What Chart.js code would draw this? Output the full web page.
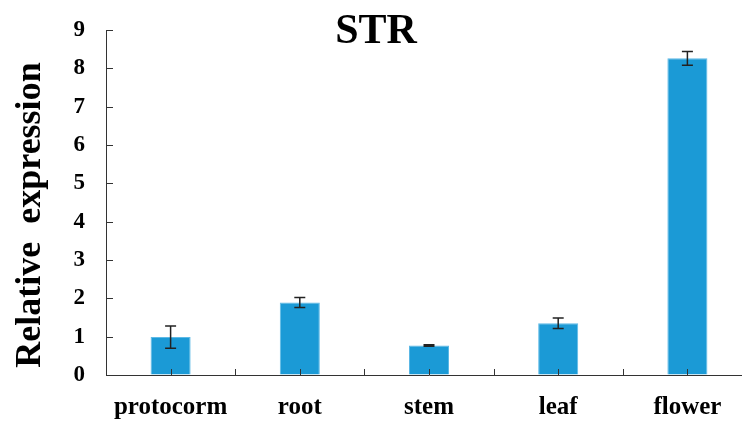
<!DOCTYPE html>
<html>
<head>
<meta charset="utf-8">
<script src="https://cdn.jsdelivr.net/npm/chart.js@4/dist/chart.umd.min.js"></script>
<style>
  html, body { margin: 0; padding: 0; overflow: hidden; background: #fff; }
  #wrap { width: 742px; height: 422px; overflow: hidden; }
  canvas { display: block; }
</style>
</head>
<body>
<div id="wrap"><canvas id="c" width="752" height="422"></canvas></div>
<script>
const categories = ['protocorm', 'root', 'stem', 'leaf', 'flower'];
const values = [0.99, 1.89, 0.77, 1.35, 8.26];
const errors = [0.29, 0.13, 0.02, 0.14, 0.18];
const yMin = 0, yMax = 9, yStep = 1;
const chartTitle = 'STR';
const yTitle = 'Relative  expression';

const FONT = "'Liberation Serif', 'Times New Roman', serif";

const extras = {
  id: 'extras',
  afterDatasetsDraw(chart) {
    const ctx = chart.ctx;
    const x = chart.scales.x, y = chart.scales.y;
    const meta = chart.getDatasetMeta(0);
    ctx.save();
    // error bars
    ctx.strokeStyle = '#222';
    ctx.lineWidth = 1.5;
    meta.data.forEach((bar, i) => {
      const cx = bar.x;
      const top = y.getPixelForValue(values[i] + errors[i]);
      const bot = y.getPixelForValue(values[i] - errors[i]);
      ctx.beginPath();
      ctx.moveTo(cx, top); ctx.lineTo(cx, bot);
      ctx.moveTo(cx - 5.5, top); ctx.lineTo(cx + 5.5, top);
      ctx.moveTo(cx - 5.5, bot); ctx.lineTo(cx + 5.5, bot);
      ctx.stroke();
    });
    // inward tick marks
    ctx.strokeStyle = '#333';
    ctx.lineWidth = 1;
    ctx.beginPath();
    for (let v = yMin; v <= yMax; v += yStep) {
      const py = Math.round(y.getPixelForValue(v)) + 0.5;
      ctx.moveTo(x.left, py); ctx.lineTo(x.left + 7, py);
    }
    const base = y.getPixelForValue(0);
    for (let i = 0; i < categories.length; i++) {
      const c = Math.round(x.getPixelForValue(i)) + 0.5;
      ctx.moveTo(c, base); ctx.lineTo(c, base - 6);
      if (i > 0) {
        const b = Math.round(x.getPixelForValue(i - 0.5)) + 0.5;
        ctx.moveTo(b, base); ctx.lineTo(b, base - 6);
      }
    }
    ctx.stroke();
    // title
    ctx.fillStyle = '#000';
    ctx.font = 'bold 42px ' + FONT;
    ctx.textAlign = 'center';
    ctx.textBaseline = 'alphabetic';
    ctx.fillText(chartTitle, 376, 43);
    // y axis title
    ctx.translate(31, 215);
    ctx.rotate(-Math.PI / 2);
    ctx.font = 'bold 36px ' + FONT;
    ctx.textBaseline = 'middle';
    ctx.fillText(yTitle, 0, 0);
    ctx.restore();
  }
};

new Chart(document.getElementById('c'), {
  type: 'bar',
  data: {
    labels: categories,
    datasets: [{
      data: values,
      backgroundColor: '#1B9AD6',
      borderColor: '#5DB9E6',
      borderWidth: 1,
      barPercentage: 0.31,
      categoryPercentage: 1.0
    }]
  },
  options: {
    responsive: false,
    animation: false,
    devicePixelRatio: 1,
    layout: { padding: { top: 30, left: 0, right: 0, bottom: 0 } },
    plugins: { legend: { display: false }, title: { display: false }, tooltip: { enabled: false } },
    scales: {
      x: {
        offset: true,
        grid: { display: true, drawOnChartArea: false, drawTicks: false },
        border: { display: true, color: '#333', width: 1 },
        ticks: { color: '#000', font: { family: FONT, size: 25, weight: 'bold' }, padding: 18, maxRotation: 0 },
        afterFit(s) { s.height = 47; }
      },
      y: {
        min: yMin, max: yMax,
        grid: { display: true, drawOnChartArea: false, drawTicks: true, tickLength: 21, tickColor: 'rgba(0,0,0,0)' },
        border: { display: true, color: '#333', width: 1 },
        ticks: { stepSize: yStep, color: '#000', font: { family: FONT, size: 23, weight: 'bold' }, padding: 0 },
        afterFit(s) { s.width = 106; }
      }
    }
  },
  plugins: [extras]
});
</script>
</body>
</html>
